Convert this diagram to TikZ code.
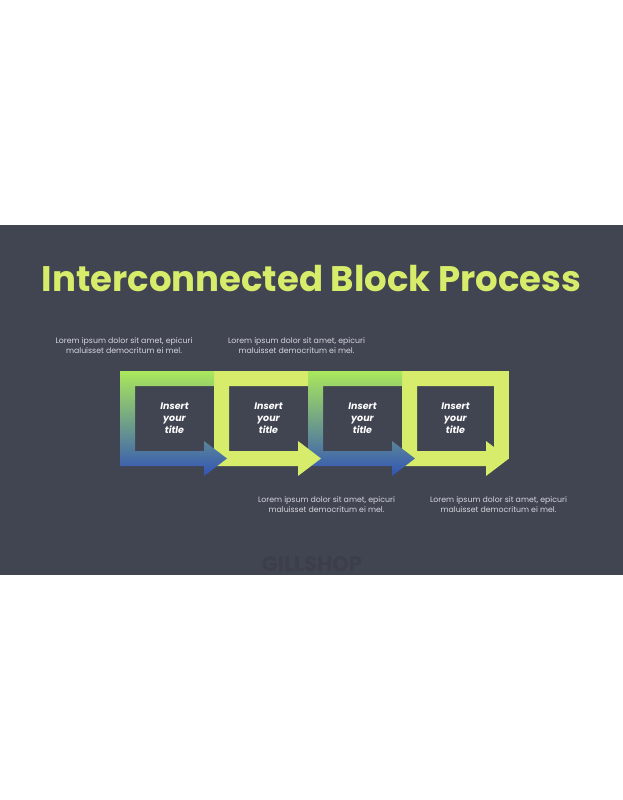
\documentclass[tikz,border=0pt]{standalone}
\usepackage{fontspec}
\setmainfont{Poppins}
\usepackage{tikz}
\usetikzlibrary{positioning}
\definecolor{slate}{RGB}{65,68,81}
\definecolor{lime}{RGB}{214,236,106}
\definecolor{leaf}{RGB}{170,232,92}
\definecolor{cobalt}{RGB}{50,84,182}
\definecolor{greytext}{RGB}{214,215,222}
\definecolor{ghost}{RGB}{60,63,75}
% U-shaped block whose bottom bar ends in an arrow, left edge at #1
\newcommand{\blockpath}[1]{(#1,371) -- (#1+94,371) -- (#1+94,386) -- (#1+15,386)
  -- (#1+15,451) -- (#1+84,451) -- (#1+84,441) -- (#1+107,458.5)
  -- (#1+84,476) -- (#1+84,466) -- (#1,466) -- cycle}
\newcommand{\snode}[3]{\node(#1)[stepname] at (#2,418.5) {#3}}
\newcommand{\dnode}[3]{\node(#1)[desc] at (#2) {Lorem ipsum dolor sit amet, epicuri\\maluisset democritum ei mel.}}

\begin{document}
\begin{tikzpicture}[x=1pt,y=-1pt,
        every node/.style={inner sep=0pt},
        stepname/.style={align=center,text=white,
                     font=\fontsize{9.5}{12}\selectfont\bfseries\itshape},
        desc/.style={align=center,text=greytext,
                     font=\fontsize{7.8}{9.5}\selectfont},
        plain/.style={fill=lime},
        fade/.style={top color=leaf,bottom color=cobalt}
      ]
      \useasboundingbox (0,0) rectangle (623,800);
      \fill[white] (0,0) rectangle (623,800);
      \fill[slate] (0,225) rectangle (623,575);

      \node(title)[text=lime,font=\fontsize{35.5}{40}\selectfont\bfseries] at (311.5,279) {Interconnected Block Process};

      % blocks, last one first so every arrow lies on the next block
      \fill[plain] \blockpath{402};
      \fill[plain] (494,371) rectangle (509,458.5);
      \shade[fade] \blockpath{308};
      \fill[plain] \blockpath{214};
      \shade[fade] \blockpath{120};

      \snode{step1}{174.5}{Insert\\your\\title};
      \snode{step2}{268.5}{Insert\\your\\title};
      \snode{step3}{362.5}{Insert\\your\\title};
      \snode{step4}{455.5}{Insert\\your\\title};

      \dnode{desc1}{124,345.5}{};
      \dnode{desc2}{296.5,345.5}{};
      \dnode{desc3}{326.5,504.5}{};
      \dnode{desc4}{498.5,504.5}{};

      \node(mark)[text=ghost,font=\fontsize{21}{21}\selectfont\bfseries] at (312,564) {GILLSHOP};
    \end{tikzpicture}
\end{document}
